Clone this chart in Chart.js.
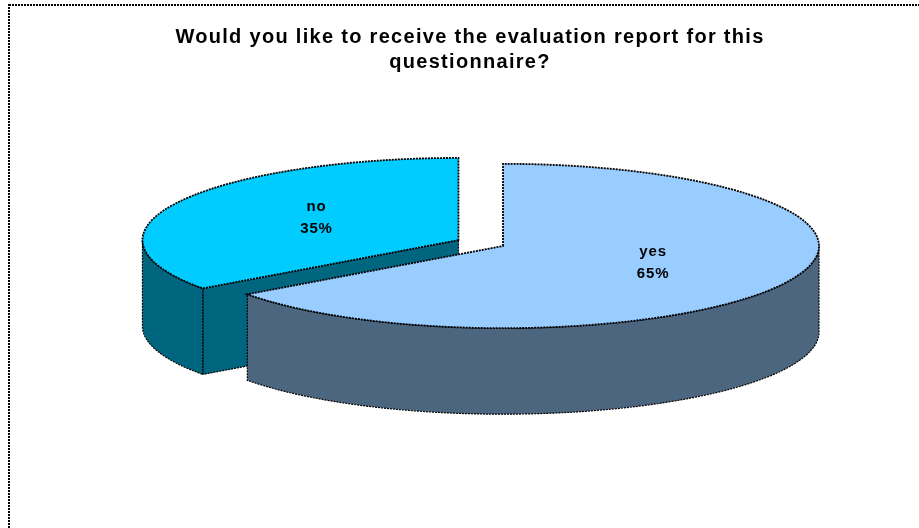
<!DOCTYPE html>
<html>
<head>
<meta charset="utf-8">
<script src="https://cdn.jsdelivr.net/npm/chart.js@4"></script>
<style>
    html, body { margin: 0; padding: 0; background: #fff; }
    #box { width: 919px; height: 528px; }
</style>
</head>
<body>
<div id="box"><canvas id="pieChart" width="919" height="528"></canvas></div>
<script>
const titleLines = ['Would you like to receive the evaluation report for this', 'questionnaire?'];
const categories = ['yes', 'no'];
const values = [65, 35];
const topColors = ['#99CCFF', '#00CCFF'];
const sideColors = ['#4D6680', '#006680'];
const explode = [0, 50];
const labelDist = [0.533, 0.504];

const squash = 0.26;   // flattens the pie into an ellipse
const depth = 86;      // height of the 3D side walls
const pieShiftX = 33;  // title is centred on the frame, pie sits right of it

// screen position of a slice centre after the squash
function centerOf(chart, arc) {
    const cy = (chart.chartArea.top + chart.chartArea.bottom) / 2;
    return { x: arc.x, y: cy + (arc.y - cy) * squash };
}

function wallPath(ctx, c, r, a0, a1) {
    ctx.beginPath();
    ctx.ellipse(c.x, c.y, r, r * squash, 0, a0, a1);
    ctx.ellipse(c.x, c.y + depth, r, r * squash, 0, a1, a0, true);
    ctx.closePath();
}

function dashed(ctx, width) {
    ctx.strokeStyle = '#000';
    ctx.lineWidth = width;
    ctx.setLineDash([2, 1]);
}

const pie3d = {
    id: 'pie3d',
    afterDatasetsUpdate(chart) {
        chart.getDatasetMeta(0).data.forEach((arc, i) => {
            const mid = (arc.startAngle + arc.endAngle) / 2;
            arc.x += pieShiftX + Math.cos(mid) * explode[i];
            arc.y += Math.sin(mid) * explode[i];
        });
    },
    beforeDraw(chart) {
        chart.ctx.letterSpacing = '1.3px';
    },
    beforeDatasetsDraw(chart) {
        const ctx = chart.ctx;
        const cy = (chart.chartArea.top + chart.chartArea.bottom) / 2;
        const arcs = chart.getDatasetMeta(0).data;

        // back slice first so the front slice covers it
        [1, 0].forEach(i => {
            const arc = arcs[i];
            const c = centerOf(chart, arc);
            const r = arc.outerRadius;
            const a0 = arc.startAngle;
            const a1 = arc.endAngle;
            ctx.save();
            ctx.fillStyle = sideColors[i];

            // flat cut wall from the centre to the edge of the slice
            if (i === 1) {
                const ex = c.x + Math.cos(a0) * r;
                const ey = c.y + Math.sin(a0) * r * squash;
                ctx.beginPath();
                ctx.moveTo(c.x, c.y);
                ctx.lineTo(ex, ey);
                ctx.lineTo(ex, ey + depth);
                ctx.lineTo(c.x, c.y + depth);
                ctx.closePath();
                ctx.fill();
                dashed(ctx, 1.2);
                ctx.stroke();
            }

            // outer curved wall, only the part facing the viewer
            const from = Math.max(a0, 0);
            const to = Math.min(a1, Math.PI);
            if (to > from) {
                wallPath(ctx, c, r, from, to);
                ctx.fill();
                dashed(ctx, 1.2);
                ctx.stroke();
            }
            ctx.restore();
        });

        ctx.save();
        ctx.translate(0, cy);
        ctx.scale(1, squash);
        ctx.translate(0, -cy);
    },
    afterDatasetsDraw(chart) {
        const ctx = chart.ctx;
        ctx.restore();

        chart.getDatasetMeta(0).data.forEach((arc, i) => {
            const c = centerOf(chart, arc);
            const r = arc.outerRadius;
            const mid = (arc.startAngle + arc.endAngle) / 2;

            ctx.save();
            ctx.beginPath();
            ctx.moveTo(c.x, c.y);
            ctx.ellipse(c.x, c.y, r, r * squash, 0, arc.startAngle, arc.endAngle);
            ctx.closePath();
            dashed(ctx, 1.8);
            ctx.stroke();
            ctx.restore();

            const lx = c.x + Math.cos(mid) * r * labelDist[i];
            const ly = c.y + Math.sin(mid) * r * squash * labelDist[i] - 3;
            ctx.save();
            ctx.fillStyle = '#000';
            ctx.font = 'bold 15px "Liberation Sans"';
            ctx.letterSpacing = '0.8px';
            ctx.textAlign = 'center';
            ctx.textBaseline = 'middle';
            const total = values.reduce((a, b) => a + b, 0);
            ctx.fillText(categories[i], lx, ly - 11);
            ctx.fillText(Math.round(values[i] / total * 100) + '%', lx, ly + 11);
            ctx.restore();
        });

        // dotted frame round the whole chart
        ctx.save();
        dashed(ctx, 2);
        ctx.strokeRect(9, 5, chart.width + 20, chart.height + 20);
        ctx.restore();
    }
};

new Chart(document.getElementById('pieChart').getContext('2d'), {
    type: 'pie',
    data: {
        labels: categories,
        datasets: [{
            data: values,
            backgroundColor: topColors,
            borderWidth: 0,
            radius: 316
        }]
    },
    options: {
        responsive: false,
        animation: false,
        layout: { padding: { left: 21, bottom: 111 } },
        plugins: {
            legend: { display: false },
            tooltip: { enabled: false },
            title: {
                display: true,
                text: titleLines,
                color: '#000',
                font: { family: '"Liberation Sans"', size: 20, weight: 'bold', lineHeight: 1.25 },
                padding: { top: 25, bottom: 0 }
            }
        }
    },
    plugins: [pie3d]
});
</script>
</body>
</html>
